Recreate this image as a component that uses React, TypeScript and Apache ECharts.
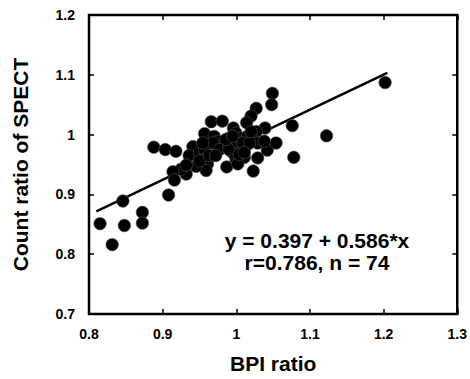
import React, { useEffect, useRef } from "react";
import * as echarts from "echarts";

const bpiRatio = [
  1.202, 1.049, 1.048, 1.027, 1.02, 1.014, 0.966, 0.981, 1.076, 1.1225,
  1.039, 1.027, 0.996, 0.957, 0.97, 0.975, 0.99, 0.9996, 1.006, 1.015,
  1.022, 1.029, 1.042, 1.054, 1.078, 0.888, 0.9036, 0.918, 0.941, 0.936,
  0.95, 0.957, 0.955, 0.961, 0.959, 0.9455, 0.932, 0.925, 0.914, 0.916,
  0.987, 0.9996, 1.011, 1.002, 0.995, 1.004, 1.013, 1.029, 1.023, 0.908,
  0.846, 0.815, 0.848, 0.8725, 0.8725, 0.8315, 0.968, 0.977, 0.99, 0.997,
  1.009, 1.018, 0.95, 0.9635, 0.99, 1.004, 0.932, 1.011, 1.02, 1.038,
  0.972, 0.9545, 0.986, 0.995,
];
const spectRatio = [
  1.087, 1.069, 1.05, 1.044, 1.031, 1.02, 1.0215, 1.0225, 1.015, 0.998,
  1.011, 1.005, 1.011, 1.0016, 0.997, 0.989, 0.994, 1.0025, 0.994, 0.997,
  0.992, 0.986, 0.974, 0.986, 0.962, 0.979, 0.975, 0.972, 0.98, 0.965,
  0.97, 0.974, 0.958, 0.951, 0.94, 0.947, 0.934, 0.942, 0.938, 0.924,
  0.946, 0.959, 0.962, 0.951, 0.97, 0.978, 0.981, 0.961, 0.939, 0.899,
  0.889, 0.851, 0.848, 0.87, 0.852, 0.816, 0.986, 0.975, 0.983, 0.989,
  0.986, 0.986, 0.956, 0.965, 0.975, 0.967, 0.949, 0.97, 1.005, 0.989,
  0.965, 0.986, 0.992, 0.997,
];
const intercept = 0.397;
const slope = 0.586;
const fitRange = [0.81, 1.205];
const xTicks = ["0.8", "0.9", "1", "1.1", "1.2", "1.3"];
const yTicks = ["0.7", "0.8", "0.9", "1", "1.1", "1.2"];
const equationText = "y = 0.397 + 0.586*x";
const statsText = "r=0.786, n = 74";

const FONT = "'Liberation Sans', Arial, Helvetica, sans-serif";

export default function App() {
  const ref = useRef<HTMLDivElement>(null);
  useEffect(() => {
    if (!ref.current) return;
    document.body.style.margin = "0";
    const chart = echarts.init(ref.current, undefined, { renderer: "svg" });
    const points = bpiRatio.map((x, i) => [x, spectRatio[i]]);
    const fit = fitRange.map((x) => [x, intercept + slope * x]);
    const tickFmt = (arr: string[], min: number) => (v: number) => {
      const idx = Math.round((v - min) / 0.1);
      return arr[idx] ?? "";
    };
    const tick = { show: true, inside: true, length: 5, lineStyle: { color: "#000", width: 1.5 } };
    chart.setOption({
      animation: false,
      backgroundColor: "#fff",
      grid: {
        left: 89,
        right: 11,
        top: 15,
        bottom: 56,
        show: true,
        borderColor: "#000",
        borderWidth: 2.5,
        backgroundColor: "transparent",
      },
      xAxis: [
        {
          type: "value",
          min: 0.8,
          max: 1.3,
          interval: 0.1,
          name: "BPI ratio",
          nameLocation: "middle",
          nameGap: 39,
          nameTextStyle: { fontFamily: FONT, fontWeight: "bold", fontSize: 21, color: "#000" },
          axisLine: { show: false },
          axisTick: tick,
          axisLabel: {
            formatter: tickFmt(xTicks, 0.8),
            fontFamily: FONT,
            fontWeight: "bold",
            fontSize: 14,
            color: "#000",
            margin: 13,
          },
          splitLine: { show: false },
        },
        {
          type: "value",
          position: "top",
          min: 0.8,
          max: 1.3,
          interval: 0.1,
          axisLine: { show: false },
          axisTick: tick,
          axisLabel: { show: false },
          splitLine: { show: false },
        },
      ],
      yAxis: [
        {
          type: "value",
          min: 0.7,
          max: 1.2,
          interval: 0.1,
          name: "Count ratio of SPECT",
          nameLocation: "middle",
          nameGap: 58,
          nameTextStyle: { fontFamily: FONT, fontWeight: "bold", fontSize: 21, color: "#000" },
          axisLine: { show: false },
          axisTick: tick,
          axisLabel: {
            formatter: tickFmt(yTicks, 0.7),
            fontFamily: FONT,
            fontWeight: "bold",
            fontSize: 14,
            color: "#000",
            margin: 14,
          },
          splitLine: { show: false },
        },
        {
          type: "value",
          position: "right",
          min: 0.7,
          max: 1.2,
          interval: 0.1,
          axisLine: { show: false },
          axisTick: tick,
          axisLabel: { show: false },
          splitLine: { show: false },
        },
      ],
      series: [
        {
          type: "line",
          data: fit,
          xAxisIndex: 0,
          yAxisIndex: 0,
          symbol: "none",
          lineStyle: { color: "#000", width: 2.5 },
          z: 2,
        },
        {
          type: "scatter",
          data: points,
          xAxisIndex: 0,
          yAxisIndex: 0,
          symbol: "circle",
          symbolSize: 12.5,
          itemStyle: { color: "#000", opacity: 1, borderColor: "#555", borderWidth: 0.6 },
          z: 3,
        },
      ],
      graphic: [
        {
          type: "text",
          x: 317,
          y: 240,
          style: {
            text: equationText,
            fontFamily: FONT,
            fontWeight: "bold",
            fontSize: 21,
            fill: "#000",
            align: "center",
            verticalAlign: "middle",
          },
        },
        {
          type: "text",
          x: 317,
          y: 262,
          style: {
            text: statsText,
            fontFamily: FONT,
            fontWeight: "bold",
            fontSize: 21,
            fill: "#000",
            align: "center",
            verticalAlign: "middle",
          },
        },
      ],
    });
    return () => chart.dispose();
  }, []);
  return <div ref={ref} style={{ width: 470, height: 379 }} />;
}
